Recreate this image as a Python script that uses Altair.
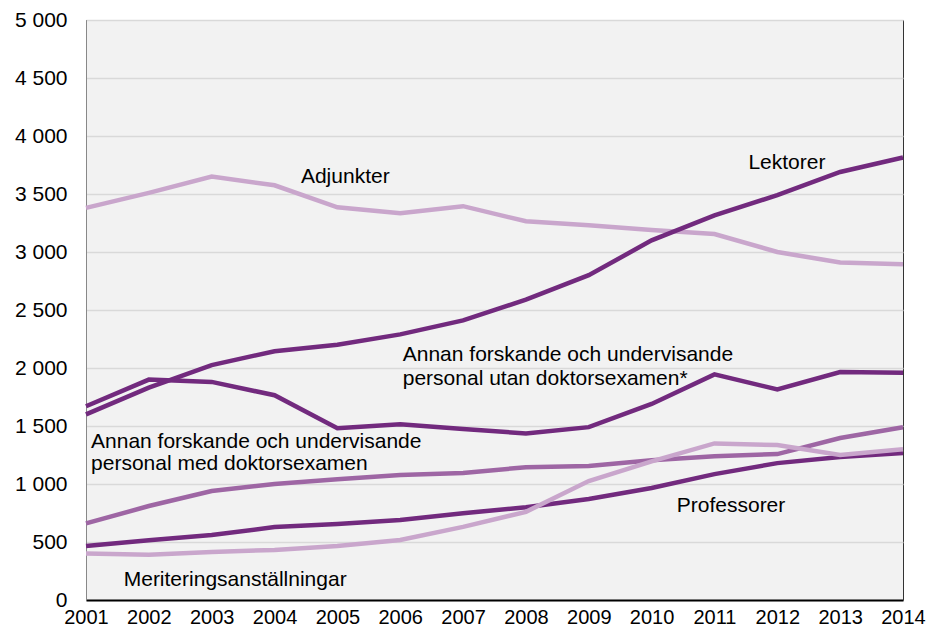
import altair as alt
import pandas as pd

years = list(range(2001, 2015))
adjunkter = [3380, 3510, 3650, 3575, 3385, 3335, 3395, 3265, 3230, 3190, 3155, 3000, 2910, 2895]
lektorer = [1600, 1830, 2025, 2145, 2200, 2290, 2410, 2590, 2800, 3100, 3315, 3490, 3690, 3815]
annan_utan = [1670, 1900, 1880, 1765, 1480, 1515, 1475, 1435, 1490, 1690, 1945, 1815, 1965, 1960]
annan_med = [660, 810, 940, 1000, 1040, 1078, 1095, 1145, 1155, 1205, 1240, 1258, 1397, 1490]
professorer = [466, 515, 560, 629, 655, 690, 748, 800, 870, 965, 1085, 1180, 1232, 1267]
meritering = [400, 390, 414, 432, 466, 517, 630, 760, 1025, 1195, 1350, 1336, 1250, 1300]

series_names = ["Adjunkter", "Lektorer", "Annan utan", "Annan med", "Professorer", "Meritering"]
series_values = [adjunkter, lektorer, annan_utan, annan_med, professorer, meritering]
series_colors = ["#c9a6cc", "#722a7e", "#722a7e", "#9e66a4", "#722a7e", "#c9a6cc"]

label_texts = ["Adjunkter", "Lektorer",
               "Annan forskande och undervisande", "personal utan doktorsexamen*",
               "Annan forskande och undervisande", "personal med doktorsexamen",
               "Professorer", "Meriteringsanställningar"]
label_x = [2004.42, 2011.54, 2006.04, 2006.04, 2001.08, 2001.08, 2010.40, 2001.60]
label_y = [3595, 3716, 2060, 1853, 1310, 1121, 759, 121]

rows = []
for name, vals in zip(series_names, series_values):
    for yr, v in zip(years, vals):
        rows.append({"year": yr, "value": v, "series": name})
df = pd.DataFrame(rows)
labels = pd.DataFrame({"text": label_texts, "x": label_x, "y": label_y})

xscale = alt.Scale(domain=[2001, 2014], nice=False, zero=False)
yscale = alt.Scale(domain=[0, 5000], nice=False)

lines = alt.Chart(df).mark_line(strokeWidth=4.5, strokeJoin="miter").encode(
    x=alt.X("year:Q", scale=xscale, title=None,
            axis=alt.Axis(values=years, format="d", grid=False, ticks=False,
                          labelFontSize=20, labelColor="#000", labelPadding=7,
                          labelFont="Liberation Sans", domainColor="#000", domainWidth=2,
                          labelFlush=False, labelOverlap=False)),
    y=alt.Y("value:Q", scale=yscale, title=None,
            axis=alt.Axis(values=list(range(0, 5001, 500)),
                          labelExpr="replace(format(datum.value, ','), ',', ' ')",
                          grid=True, gridColor="#d9d9d9", gridWidth=1.5, ticks=False,
                          labelFontSize=21, labelColor="#000", labelPadding=19,
                          labelFont="Liberation Sans", domainColor="#888", domainWidth=1)),
    color=alt.Color("series:N", scale=alt.Scale(domain=series_names, range=series_colors), legend=None),
    detail="series:N",
)

text = alt.Chart(labels).mark_text(align="left", baseline="alphabetic", fontSize=21,
                                   font="Liberation Sans", color="#000").encode(
    x=alt.X("x:Q", scale=xscale),
    y=alt.Y("y:Q", scale=yscale),
    text="text:N",
)

chart = (lines + text).properties(
    width=817, height=580,
    padding={"left": 78, "top": 12, "right": 23, "bottom": 29},
    autosize=alt.AutoSizeParams(type="none"),
    background="white",
).configure_view(fill="#f2f2f2", stroke="#333", strokeWidth=1)

chart.save("out.html", embed_options={"renderer": "svg", "actions": False})
